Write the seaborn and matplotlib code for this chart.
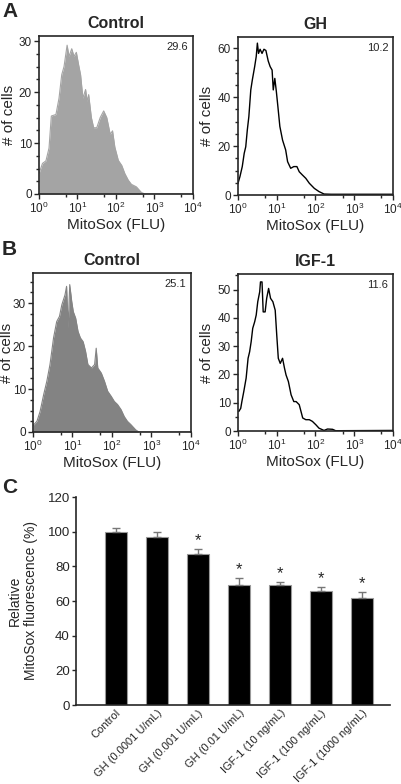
import numpy as np
import pandas as pd
import matplotlib
matplotlib.use("Agg")
import matplotlib.pyplot as plt
import matplotlib.ticker as mticker
import seaborn as sns

# ---------------- data ----------------
# Panel A control histogram (log10 FLU, # of cells)
a_ctrl_log = [0.0, 0.09, 0.18, 0.26, 0.32, 0.44, 0.52, 0.59, 0.65, 0.73, 0.78, 0.85, 0.91, 0.97,
              1.03, 1.08, 1.14, 1.21, 1.25, 1.29, 1.36, 1.42, 1.50, 1.59, 1.68, 1.76, 1.85, 1.91,
              1.97, 2.06, 2.15, 2.23, 2.32, 2.40, 2.53, 2.66, 2.75, 4.0]
a_ctrl_cnt = [4.0, 6.0, 6.5, 9.0, 15.3, 15.6, 18.8, 23.4, 25.0, 29.2, 27.0, 28.5, 27.0, 27.8,
              25.3, 23.4, 18.8, 20.5, 18.2, 19.5, 15.0, 13.0, 13.0, 15.0, 16.3, 15.0, 11.7, 12.4,
              9.2, 6.6, 5.6, 4.0, 2.7, 1.9, 1.4, 0.3, 0.0, 0.0]
a_ctrl_pct = "29.6"

# Panel A GH histogram
a_gh_log = [0.0, 0.05, 0.11, 0.16, 0.2, 0.24, 0.28, 0.33, 0.37, 0.43, 0.47, 0.5, 0.53, 0.57,
            0.62, 0.67, 0.72, 0.78, 0.83, 0.88, 0.91, 0.95, 0.99, 1.03, 1.08, 1.15, 1.23, 1.28,
            1.36, 1.44, 1.52, 1.58, 1.66, 1.75, 1.84, 1.97, 2.09, 2.22, 2.4, 4.0]
a_gh_cnt = [4.8, 7.5, 11.6, 17.0, 19.7, 26.5, 32.0, 42.9, 47.0, 52.4, 56.5, 62.0, 57.8, 59.5,
            57.8, 59.5, 59.0, 54.7, 52.4, 51.0, 42.9, 47.6, 42.2, 36.0, 28.0, 22.4, 18.4, 13.6,
            10.9, 11.6, 11.6, 9.5, 8.2, 6.8, 4.8, 2.7, 1.4, 0.4, 0.3, 0.3]
a_gh_pct = "10.2"

# Panel B control histogram
b_ctrl_log = [0.0, 0.1, 0.18, 0.27, 0.35, 0.43, 0.52, 0.6, 0.67, 0.73, 0.81, 0.85, 0.89, 0.93,
              0.98, 1.02, 1.08, 1.14, 1.2, 1.27, 1.33, 1.39, 1.48, 1.56, 1.6, 1.64, 1.73, 1.81,
              1.89, 1.98, 2.06, 2.14, 2.23, 2.31, 2.39, 2.48, 2.6, 2.68, 4.0]
b_ctrl_cnt = [1.5, 2.5, 4.8, 8.7, 11.8, 15.7, 21.9, 25.7, 26.9, 29.6, 31.9, 33.9, 24.2, 34.3,
              30.4, 28.0, 26.5, 23.4, 21.9, 21.0, 18.8, 15.7, 14.9, 15.7, 19.5, 14.9, 13.7, 11.8,
              9.5, 8.3, 7.1, 6.4, 5.2, 3.6, 2.5, 1.7, 0.5, 0.0, 0.0]
b_ctrl_pct = "25.1"

# Panel B IGF-1 histogram
b_igf_log = [0.02, 0.07, 0.1, 0.15, 0.21, 0.26, 0.3, 0.34, 0.38, 0.43, 0.47, 0.51, 0.56, 0.58,
             0.62, 0.65, 0.7, 0.74, 0.79, 0.84, 0.9, 0.96, 1.0, 1.04, 1.09, 1.15, 1.2, 1.24,
             1.3, 1.37, 1.44, 1.5, 1.58, 1.67, 1.75, 1.84, 1.92, 2.01, 2.09, 2.22, 2.31, 2.44,
             2.52, 4.0]
b_igf_cnt = [6.9, 8.0, 10.4, 14.0, 18.7, 25.7, 28.0, 31.6, 36.3, 38.6, 41.0, 45.7, 49.2, 52.7,
             52.7, 42.1, 42.1, 46.9, 50.4, 46.9, 45.7, 42.7, 33.9, 25.7, 23.9, 25.7, 22.2, 19.8,
             17.5, 12.8, 10.4, 10.4, 9.3, 4.6, 4.0, 4.0, 3.4, 2.2, 1.0, 0.2, 0.7, 0.6, 0.1, 0.2]
b_igf_pct = "11.6"

# Panel C bar chart
c_labels = ["Control", "GH (0.0001 U/mL)", "GH (0.001 U/mL)", "GH (0.01 U/mL)",
            "IGF-1 (10 ng/mL)", "IGF-1 (100 ng/mL)", "IGF-1 (1000 ng/mL)"]
c_values = [100, 97, 87, 69, 69, 66, 62]
c_errors = [2, 3, 3, 4, 2, 2, 3]
c_signif = ["", "", "*", "*", "*", "*", "*"]

# ---------------- style ----------------
sns.set_theme(style="ticks")
plt.rcParams["font.family"] = ["Liberation Sans", "DejaVu Sans"]
plt.rcParams["axes.linewidth"] = 1.2
plt.rcParams["xtick.major.width"] = 1.0
plt.rcParams["ytick.major.width"] = 1.0

W, H = 402, 784
fig = plt.figure(figsize=(W / 100, H / 100), dpi=100)


def rect(l, t, r, b):
    return [l / W, 1 - b / H, (r - l) / W, (b - t) / H]


def hist_panel(box, logs, cnts, ymax, ymajor, yminor, title, pct, ylab_x, fill=None):
    ax = fig.add_axes(rect(*box))
    flu = 10 ** np.asarray(logs)
    df = pd.DataFrame({"flu": flu, "cells": cnts})
    if fill is not None:
        ax.fill_between(df["flu"], df["cells"], color=fill, lw=0)
        sns.lineplot(data=df, x="flu", y="cells", ax=ax, color=fill, lw=0.8)
    else:
        sns.lineplot(data=df, x="flu", y="cells", ax=ax, color="black", lw=1.0)
    ax.set_xscale("log")
    ax.set_xlim(1, 1e4)
    ax.set_ylim(0, ymax)
    ax.xaxis.set_major_locator(mticker.LogLocator(base=10, numticks=10))
    ax.xaxis.set_minor_locator(mticker.FixedLocator([5, 50, 500, 5000]))
    ax.xaxis.set_minor_formatter(mticker.NullFormatter())
    ax.yaxis.set_major_locator(mticker.MultipleLocator(ymajor))
    ax.yaxis.set_minor_locator(mticker.MultipleLocator(yminor))
    ax.tick_params(axis="both", which="major", labelsize=8.5, length=3.5, pad=1.5)
    ax.tick_params(axis="both", which="minor", length=2)
    ax.set_xlabel("MitoSox (FLU)", fontsize=11, labelpad=1)
    ax.set_ylabel("# of cells", fontsize=11)
    ax.yaxis.set_label_coords(ylab_x, 0.5)
    ax.set_title(title, fontsize=11.5, fontweight="bold", pad=6)
    ax.text(0.97, 0.96, pct, transform=ax.transAxes, ha="right", va="top", fontsize=8)
    return ax


hist_panel((39, 36, 193, 194), a_ctrl_log, a_ctrl_cnt, 31, 10, 2.5, "Control", a_ctrl_pct,
           -0.15, fill="#a4a4a4")
hist_panel((238, 37, 393, 195), a_gh_log, a_gh_cnt, 64.5, 20, 5, "GH", a_gh_pct, -0.155)
hist_panel((33, 273, 191, 432), b_ctrl_log, b_ctrl_cnt, 37, 10, 2.5, "Control", b_ctrl_pct,
           -0.12, fill="#838383")
hist_panel((238, 274, 393, 431), b_igf_log, b_igf_cnt, 55.5, 10, 5, "IGF-1", b_igf_pct, -0.155)

# ---------------- panel C ----------------
axc = fig.add_axes(rect(76, 497, 390, 705))
dfc = pd.DataFrame({"treatment": c_labels, "value": c_values})
sns.barplot(data=dfc, x="treatment", y="value", order=c_labels, color="black",
            edgecolor="#999999", linewidth=0.8, width=0.54, errorbar=None, ax=axc,
            saturation=1)
xs = np.arange(len(c_labels))
axc.errorbar(xs, c_values, yerr=[np.zeros(len(c_values)), c_errors], fmt="none",
             ecolor="#777777", elinewidth=1, capsize=3, capthick=1)
for x, v, e, s in zip(xs, c_values, c_errors, c_signif):
    if s:
        axc.text(x, v + e + 0.5, s, ha="center", va="bottom", fontsize=12)
axc.set_xlim(-0.97, 6.68)
axc.set_ylim(0, 120)
axc.yaxis.set_major_locator(mticker.MultipleLocator(20))
axc.tick_params(axis="y", labelsize=9.5, length=3, pad=1.5)
axc.tick_params(axis="x", length=0, pad=2)
axc.set_xticks(xs)
axc.set_xticklabels(c_labels, rotation=45, ha="right", rotation_mode="anchor", fontsize=8)
axc.set_xlabel("")
axc.set_ylabel("Relative\nMitoSox fluorescence (%)", fontsize=10)
axc.yaxis.set_label_coords(-0.12, 0.5)
sns.despine(ax=axc)

# panel letters
fig.text(2 / W, 1 - 2 / H, "A", fontsize=15, fontweight="bold", va="top", ha="left")
fig.text(2 / W, 1 - 240 / H, "B", fontsize=15, fontweight="bold", va="top", ha="left")
fig.text(2 / W, 1 - 478 / H, "C", fontsize=15, fontweight="bold", va="top", ha="left")

fig.savefig("out.png", dpi=100)
